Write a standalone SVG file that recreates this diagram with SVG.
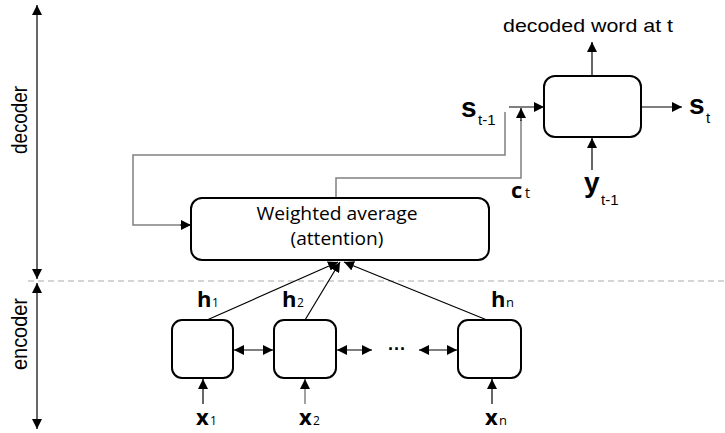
<svg xmlns="http://www.w3.org/2000/svg" width="725" height="433" viewBox="0 0 725 433">
<defs>
<marker id="ah" viewBox="0 0 10 10" refX="10" refY="5" markerWidth="10" markerHeight="10" markerUnits="userSpaceOnUse" orient="auto-start-reverse">
<path d="M0,0 L10,5 L0,10 z" fill="#000"/>
</marker>
<style>
.box{fill:#fff;stroke:#000;stroke-width:2}
.ln{fill:none;stroke:#000;stroke-width:1.2}
.gl{fill:none;stroke:#808080;stroke-width:1.5}
.lab{font-family:"Liberation Sans",Arial,sans-serif;fill:#000}
.bl{font-family:"Liberation Sans",Arial,sans-serif;font-weight:bold;fill:#000}
.ob{font-family:"Open Sans","Liberation Sans",sans-serif;font-weight:bold;fill:#000}
.os{font-family:"Open Sans","Liberation Sans",sans-serif;fill:#000}
</style>
</defs>
<rect width="725" height="433" fill="#fff"/>

<!-- axis -->
<g id="axis">
<line x1="28" y1="281" x2="725" y2="281" stroke="#aaa" stroke-width="1" stroke-dasharray="6,4"/>
<line class="ln" x1="37" y1="5" x2="37" y2="279" marker-start="url(#ah)" marker-end="url(#ah)"/>
<line class="ln" x1="37" y1="283" x2="37" y2="429" marker-start="url(#ah)" marker-end="url(#ah)"/>
<text class="lab" font-size="22" text-anchor="middle" transform="translate(27,120) rotate(-90)" textLength="68" lengthAdjust="spacingAndGlyphs">decoder</text>
<text class="lab" font-size="22" text-anchor="middle" transform="translate(27,334) rotate(-90)" textLength="72" lengthAdjust="spacingAndGlyphs">encoder</text>
</g>

<!-- connectors -->
<g id="connectors">
<polyline class="gl" points="505,112 505,155 133,155 133,225 180,225"/>
<line class="ln" x1="180" y1="225" x2="191" y2="225" marker-end="url(#ah)"/>
<polyline class="gl" points="336,198 336,178 521,178 521,120"/>
<line class="ln" x1="521" y1="121" x2="521" y2="108" marker-end="url(#ah)"/>
<line class="ln" x1="509" y1="107" x2="544" y2="107" marker-end="url(#ah)"/>
<line class="ln" x1="641" y1="107" x2="682" y2="107" marker-end="url(#ah)"/>
<line class="ln" x1="592" y1="76" x2="592" y2="42" marker-end="url(#ah)"/>
<line class="ln" x1="592" y1="170" x2="592" y2="138" marker-end="url(#ah)"/>
<line class="ln" x1="207" y1="320" x2="338" y2="262" marker-end="url(#ah)"/>
<line class="ln" x1="305" y1="320" x2="340" y2="262" marker-end="url(#ah)"/>
<line class="ln" x1="487" y1="320" x2="344" y2="262" marker-end="url(#ah)"/>
<line class="ln" x1="234" y1="350" x2="273" y2="350" marker-start="url(#ah)" marker-end="url(#ah)"/>
<line class="ln" x1="337" y1="350" x2="372" y2="350" marker-start="url(#ah)" marker-end="url(#ah)"/>
<line class="ln" x1="419" y1="350" x2="457" y2="350" marker-start="url(#ah)" marker-end="url(#ah)"/>
<line class="ln" x1="203" y1="404" x2="203" y2="379" marker-end="url(#ah)"/>
<line x1="305" y1="404" x2="305" y2="379" stroke="#808080" stroke-width="1.5"/>
<path d="M300,389 L305,379 L310,389 z" fill="#000"/>
<line class="ln" x1="492" y1="404" x2="492" y2="379" marker-end="url(#ah)"/>
</g>

<!-- attention node -->
<g id="attention">
<rect class="box" x="191" y="198" width="298" height="62" rx="11"/>
<text class="os" font-size="18" x="337" y="220" text-anchor="middle" textLength="161" lengthAdjust="spacingAndGlyphs">Weighted average</text>
<text class="os" font-size="18" x="337" y="245" text-anchor="middle" textLength="93" lengthAdjust="spacingAndGlyphs">(attention)</text>
</g>

<!-- decoder node -->
<g id="decoder-cell">
<rect class="box" x="544" y="76" width="97" height="61" rx="11"/>
</g>

<!-- encoder nodes -->
<g id="enc1"><rect class="box" x="172" y="320" width="61" height="58" rx="10"/></g>
<g id="enc2"><rect class="box" x="274" y="320" width="62" height="58" rx="10"/></g>
<g id="encn"><rect class="box" x="458" y="320" width="63" height="58" rx="10"/></g>

<!-- labels -->
<g id="labels">
<text class="lab" font-size="19" x="588" y="32" text-anchor="middle" textLength="170" lengthAdjust="spacingAndGlyphs">decoded word at t</text>
<text class="bl" font-size="28" x="461" y="117">s</text>
<text class="lab" font-size="15" x="478" y="125">t-1</text>
<text class="bl" font-size="28" x="689" y="114">s</text>
<text class="lab" font-size="15" x="706" y="123">t</text>
<text class="bl" font-size="28" x="584" y="192">y</text>
<text class="lab" font-size="15" x="601" y="205">t-1</text>
<text class="ob" font-size="22" x="511" y="198">c</text>
<text class="os" font-size="14" x="525" y="198">t</text>
<text class="ob" font-size="22" x="197" y="307">h</text>
<text class="os" font-size="12" x="212" y="307">1</text>
<text class="ob" font-size="22" x="282" y="307">h</text>
<text class="os" font-size="12" x="297" y="307">2</text>
<text class="ob" font-size="22" x="491" y="307">h</text>
<text class="os" font-size="13" x="506" y="307">n</text>
<text class="ob" font-size="22" x="196" y="425">x</text>
<text class="os" font-size="12" x="210" y="425">1</text>
<text class="ob" font-size="22" x="299" y="425">x</text>
<text class="os" font-size="12" x="313" y="425">2</text>
<text class="ob" font-size="22" x="485" y="425">x</text>
<text class="os" font-size="13" x="499" y="425">n</text>
<text class="lab" font-size="18" x="397" y="355" text-anchor="middle" font-weight="bold">···</text>
</g>
</svg>
